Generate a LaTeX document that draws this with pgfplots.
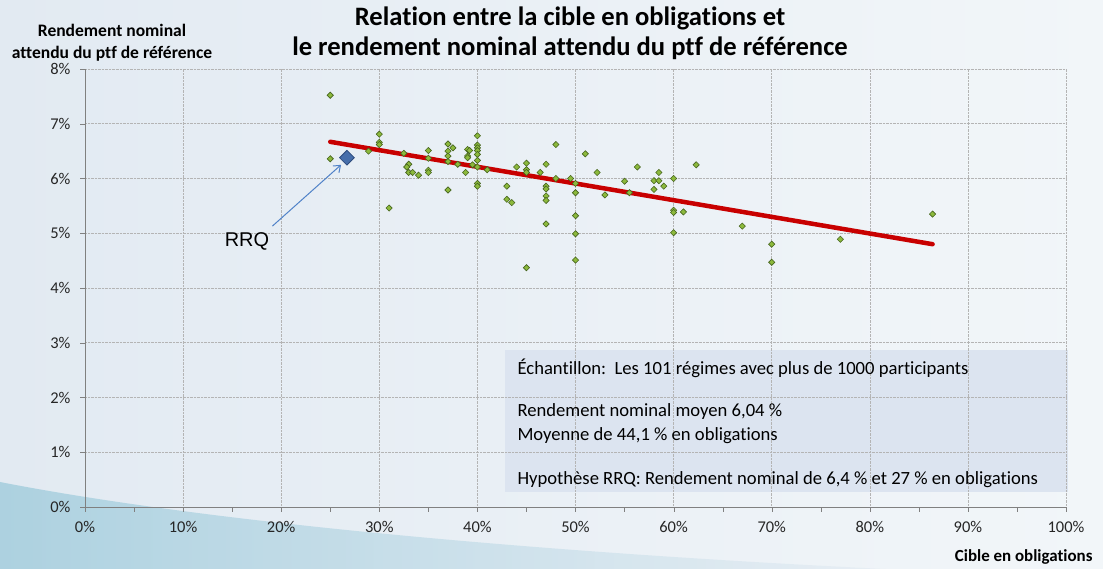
\documentclass[border=0pt]{standalone}
\usepackage{fontspec}
\setmainfont{Carlito}[Ligatures=NoCommon]
\newfontfamily\arialfont{Liberation Sans}
\usepackage{pgfplots}
\pgfplotsset{compat=1.18}
\usetikzlibrary{arrows.meta}
\definecolor{bgleft}{RGB}{226,234,242}
\definecolor{bgright}{RGB}{242,246,249}
\definecolor{swoosh}{RGB}{130,190,210}
\definecolor{ptfill}{RGB}{140,185,60}
\definecolor{ptdraw}{RGB}{70,100,30}
\definecolor{rrqfill}{RGB}{70,110,170}
\definecolor{rrqdraw}{RGB}{45,75,125}
\definecolor{trend}{RGB}{200,0,0}
\definecolor{arrowblue}{RGB}{80,130,200}
\definecolor{boxfill}{RGB}{220,228,240}
\definecolor{gridgray}{RGB}{180,180,180}

\begin{document}
\begin{tikzpicture}[x=1bp,y=1bp]
% page background
\shade[left color=bgleft, right color=bgright] (-85,-62) rectangle (1018,507);
\shade[left color=swoosh, right color=bgleft, opacity=0.55]
  (-85,-62) -- (-85,25) .. controls (120,-15) and (450,-45) .. (800,-62) -- cycle;
% note box
\fill[boxfill] (420,15) rectangle (983,157);

\begin{axis}[
    at={(0,0)}, anchor=south west,
    scale only axis,
    width=981bp, height=438bp,
    xmin=0, xmax=100, ymin=0, ymax=8,
    axis lines=left,
    axis line style={-, draw=gray},
    xtick={0,10,...,100},
    xticklabels={0\%,10\%,20\%,30\%,40\%,50\%,60\%,70\%,80\%,90\%,100\%},
    minor x tick num=1,
    ytick={0,1,...,8},
    yticklabels={0\%,1\%,2\%,3\%,4\%,5\%,6\%,7\%,8\%},
    tick align=outside,
    major tick length=5bp, minor tick length=5bp,
    tick style={draw=gray},
    grid=major,
    major grid style={densely dotted, gridgray, line width=0.6bp},
    every tick label/.style={font=\fontsize{16.5}{18}\selectfont, text=black!85},
    xticklabel style={yshift=-6bp},
    yticklabel style={xshift=-6bp},
    clip=false,
  ]
  % regression line
  \addplot[trend, line width=4.5bp, line cap=round] coordinates {(25,6.67) (86.4,4.80)};
  % plans
  \addplot[only marks, mark=square*, mark size=2.2bp,
    mark options={rotate=45, fill=ptfill, draw=ptdraw, line width=0.6bp}] table {
x y
25.0 7.52
25.0 6.36
28.9 6.50
30.0 6.81
30.0 6.66
30.0 6.62
31.0 5.46
32.5 6.46
33.0 6.26
32.8 6.21
33.0 6.11
33.4 6.11
34.0 6.06
35.0 6.51
35.0 6.37
35.0 6.15
35.0 6.11
37.0 6.63
37.0 6.50
37.0 6.41
37.0 6.31
37.0 5.79
37.5 6.56
38.0 6.26
38.8 6.11
39.0 6.53
39.0 6.41
39.0 6.38
39.2 6.51
39.5 6.25
40.0 6.78
40.0 6.61
40.0 6.56
40.0 6.51
40.0 6.44
40.0 6.33
40.0 6.21
40.0 5.91
40.0 5.86
41.0 6.16
43.0 5.86
43.0 5.62
43.5 5.56
44.0 6.21
45.0 6.28
45.0 6.16
45.0 6.11
45.0 4.37
46.4 6.11
47.0 6.26
47.0 5.86
47.0 5.81
47.0 5.68
47.0 5.60
47.0 5.17
48.0 6.62
48.0 6.00
49.5 6.00
50.0 5.91
50.0 5.74
50.0 5.32
50.0 4.99
50.0 4.51
51.0 6.45
52.2 6.11
53.0 5.70
55.0 5.95
55.5 5.74
56.3 6.21
58.0 5.96
58.5 5.96
58.5 6.11
58.0 5.80
59.0 5.86
60.0 6.00
60.0 5.42
60.0 5.38
61.0 5.39
60.0 5.01
62.3 6.25
67.0 5.13
70.0 4.80
70.0 4.47
77.0 4.89
86.4 5.35
};
  % RRQ hypothesis
  \addplot[only marks, mark=square*, mark size=5.2bp,
    mark options={rotate=45, fill=rrqfill, draw=rrqdraw, line width=0.8bp}]
    coordinates {(26.7,6.38)};
  \draw[arrowblue, line width=1bp, -{Straight Barb[length=6bp,width=9bp]}]
    (axis cs:19.1,5.13) -- (axis cs:26.1,6.25);
\end{axis}

% titles and labels
\node[align=center, font=\fontsize{26.7}{30}\selectfont\bfseries] at (485,474)
  {Relation entre la cible en obligations et\\le rendement nominal attendu du ptf de référence};
\node[align=center, font=\fontsize{17.6}{22}\selectfont\bfseries] at (27,464)
  {Rendement nominal\\attendu du ptf de référence};
\node[anchor=east, font=\fontsize{17}{19}\selectfont\bfseries] at (1011,-50) {Cible en obligations};
\node[font=\arialfont\fontsize{20}{22}\selectfont] at (162,266) {RRQ};
\node[anchor=west, align=left, font=\fontsize{18.7}{24}\selectfont] at (429,139) {Échantillon:\ \ Les 101 régimes avec plus de 1000 participants};
\node[anchor=west, align=left, font=\fontsize{18.7}{24}\selectfont] at (429,83) {Rendement nominal moyen 6,04 \%\\Moyenne de 44,1 \% en obligations};
\node[anchor=west, align=left, font=\fontsize{18.7}{24}\selectfont] at (429,27) {Hypothèse RRQ: Rendement nominal de 6,4 \% et 27 \% en obligations};

\pgfresetboundingbox
\path[use as bounding box] (-85,-62) rectangle (1018,507);
\end{tikzpicture}
\end{document}
